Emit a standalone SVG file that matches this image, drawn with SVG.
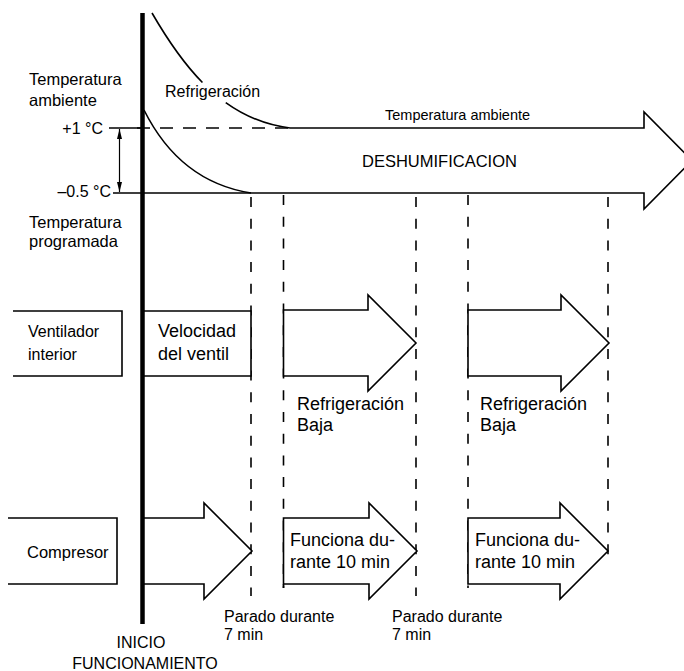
<svg xmlns="http://www.w3.org/2000/svg" width="684" height="671" viewBox="0 0 684 671">
<defs>
<marker id="ah" viewBox="0 0 10 5" refX="10" refY="2.5" markerWidth="10" markerHeight="5" markerUnits="userSpaceOnUse" orient="auto-start-reverse"><path d="M0,0 L10,2.5 L0,5 z" fill="#000"/></marker>
</defs>
<style>
text{font-family:"Liberation Sans",Arial,sans-serif;fill:#000;font-size:16px}
.s{fill:none;stroke:#000;stroke-width:1.6}
.b{fill:#fff;stroke:#000;stroke-width:1.6}
.d{fill:none;stroke:#000;stroke-width:1.6;stroke-dasharray:10 11.7}
.hd{fill:none;stroke:#000;stroke-width:1.6;stroke-dasharray:13 10}
.l{font-size:16.5px}
.f18{font-size:18px}
</style>
<rect width="684" height="671" fill="#fff"/>

<g id="connectors">
  <line class="d" x1="251" y1="197" x2="251" y2="596"/>
  <line class="d" x1="283.5" y1="195" x2="283.5" y2="588"/>
  <line class="d" x1="416" y1="197" x2="416" y2="596"/>
  <line class="d" x1="468" y1="195" x2="468" y2="588"/>
  <line class="d" x1="608" y1="197" x2="608" y2="556"/>
  <line x1="119.5" y1="129" x2="119.5" y2="192" stroke="#000" stroke-width="1.2" marker-start="url(#ah)" marker-end="url(#ah)"/>
</g>

<g id="lbl-ambiente">
  <text class="l" x="29" y="85">Temperatura</text>
  <text class="l" x="29" y="106">ambiente</text>
</g>
<g id="lbl-programada">
  <text class="l" x="29" y="228">Temperatura</text>
  <text class="l" x="29" y="247">programada</text>
</g>
<g id="lbl-plus1">
  <text x="103" y="134" text-anchor="end">+1 °C</text>
  <line class="s" x1="109" y1="128" x2="142" y2="128"/>
  <line class="hd" x1="137" y1="128" x2="290" y2="128"/>
</g>
<g id="lbl-minus05">
  <text x="111" y="197" text-anchor="end">–0.5 °C</text>
</g>

<g id="deshum-arrow">
  <path class="s" d="M290,128 H644 V112 L692,160.5 L644,209 V193 H113"/>
  <text x="385" y="120" style="font-size:14.5px">Temperatura ambiente</text>
  <text class="l" x="362" y="167">DESHUMIFICACION</text>
</g>

<g id="curve-refrig">
  <path class="s" d="M152,13 C166.85,38.65 183.12,62.88 202.44,82.51"/>
  <path class="s" d="M225.74,102.61 C244.21,115.86 265.3,124.96 290,128"/>
  <text x="165" y="97">Refrigeración</text>
</g>
<g id="curve-lower">
  <path class="s" d="M144,110 C166,154 200,185 251,193"/>
</g>

<g id="ventilador">
  <path class="s" d="M13,311 H122 V376 H13"/>
  <text x="28" y="337">Ventilador</text>
  <text x="28" y="360">interior</text>
</g>
<g id="velocidad">
  <path class="b" d="M143,311 H251 V376 H143 Z"/>
  <text class="f18" x="158" y="337">Velocidad</text>
  <text class="f18" x="158" y="360">del ventil</text>
</g>
<g id="fan-arrow-1">
  <path class="b" d="M283.5,310 H368 V295 L416,343 L368,391 V376 H283.5 Z"/>
  <text class="f18" x="297" y="410">Refrigeración</text>
  <text class="f18" x="297" y="431">Baja</text>
</g>
<g id="fan-arrow-2">
  <path class="b" d="M468,310 H561 V295 L609,343 L561,391 V376 H468 Z"/>
  <text class="f18" x="480" y="410">Refrigeración</text>
  <text class="f18" x="480" y="431">Baja</text>
</g>

<g id="compresor">
  <path class="s" d="M8,518 H117 V584 H8"/>
  <text class="l" x="27" y="558">Compresor</text>
</g>
<g id="comp-arrow-1">
  <path class="b" d="M143,518 H204 V503 L252,551 L204,599 V584 H143 Z"/>
</g>
<g id="comp-arrow-2">
  <path class="b" d="M283.5,518 H369 V503 L417,551 L369,599 V584 H283.5 Z"/>
  <line class="s" x1="283.5" y1="584" x2="283.5" y2="588"/>
  <text class="f18" x="290" y="546">Funciona du-</text>
  <text class="f18" x="290" y="568">rante 10 min</text>
</g>
<g id="comp-arrow-3">
  <path class="b" d="M468,518 H560 V503 L608,551 L560,599 V584 H468 Z"/>
  <text class="f18" x="475" y="546">Funciona du-</text>
  <text class="f18" x="475" y="568">rante 10 min</text>
</g>

<g id="parado-1">
  <text x="224" y="622">Parado durante</text>
  <text x="224" y="640">7 min</text>
</g>
<g id="parado-2">
  <text x="392" y="622">Parado durante</text>
  <text x="392" y="640">7 min</text>
</g>

<g id="inicio">
  <line x1="142.5" y1="13" x2="142.5" y2="624" stroke="#000" stroke-width="4.5"/>
  <text x="141" y="648" text-anchor="middle">INICIO</text>
  <text x="145" y="669" text-anchor="middle">FUNCIONAMIENTO</text>
</g>
</svg>
